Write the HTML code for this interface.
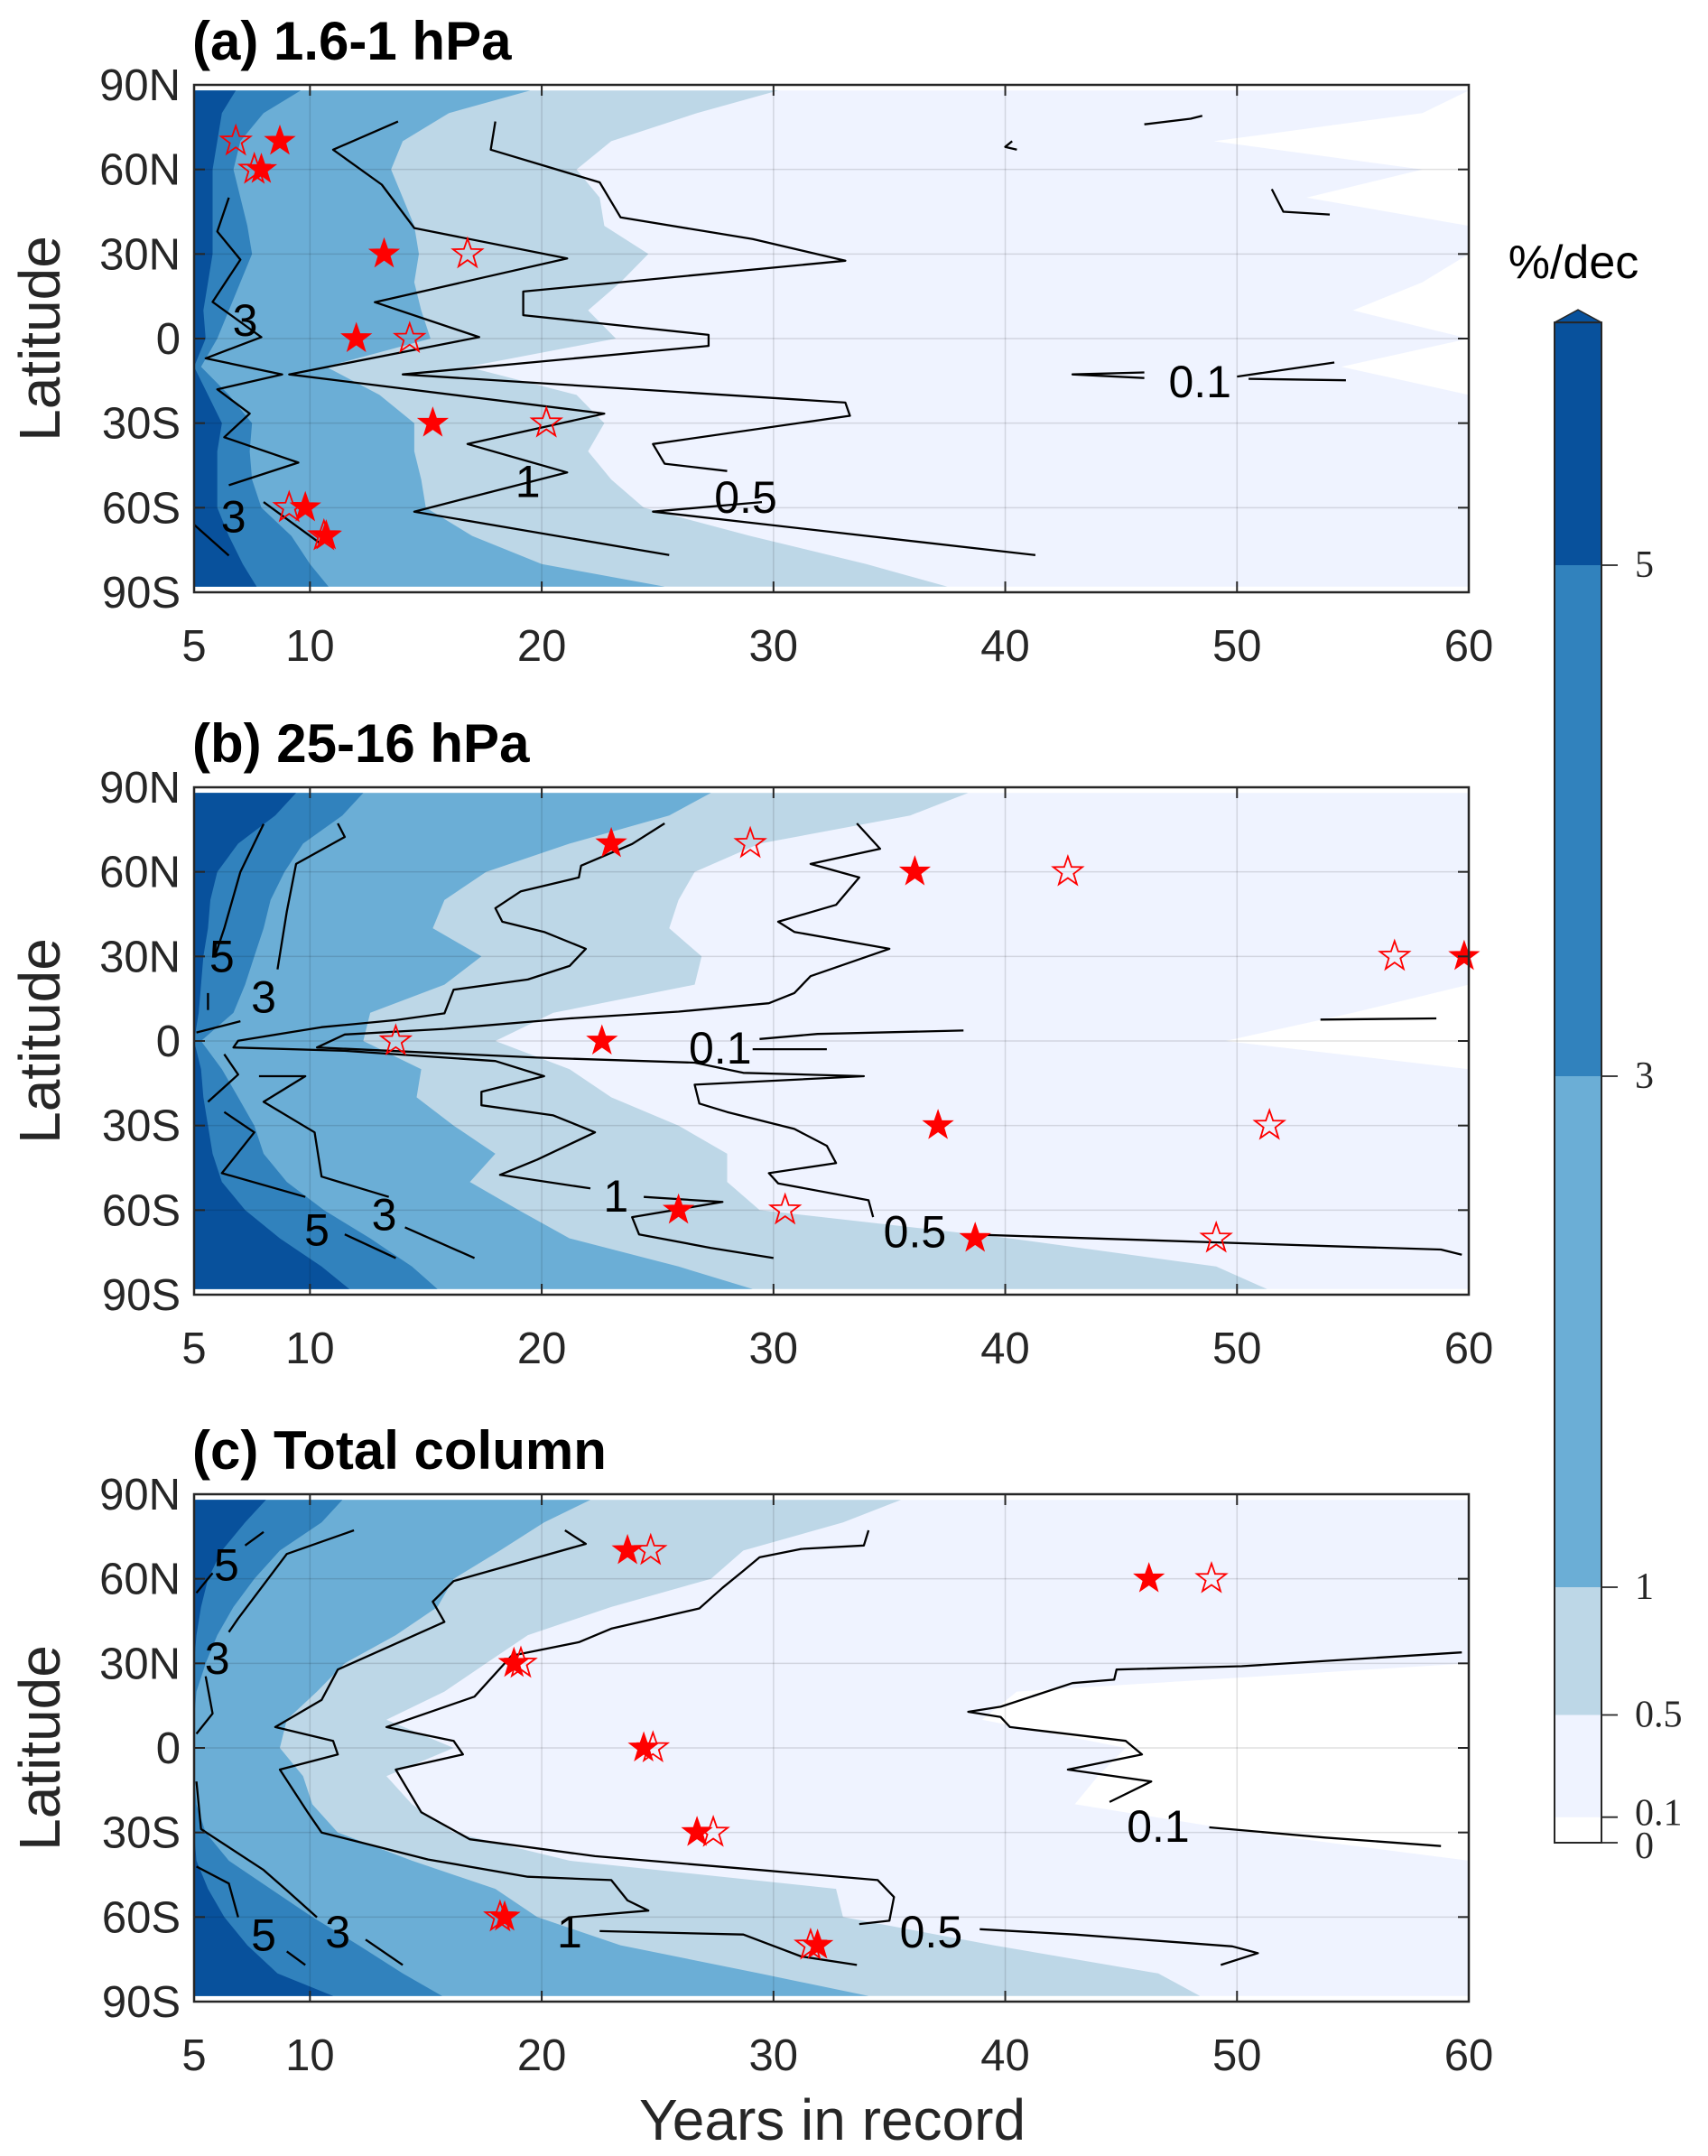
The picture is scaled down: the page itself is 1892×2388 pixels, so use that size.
<!DOCTYPE html>
<html><head><meta charset="utf-8">
<style>
html,body{margin:0;padding:0;background:#fff;}
svg{display:block;font-family:"Liberation Sans",sans-serif;}
</style></head>
<body>
<svg id="fig" width="1892" height="2388" viewBox="0 0 1892 2388" xmlns="http://www.w3.org/2000/svg"></svg>
<script>
// ---- data ----
const lats=[88,80,70,60,50,40,30,20,10,0,-10,-20,-30,-40,-50,-60,-70,-80,-88];
const levels=[0.1,0.5,1,3,5];
const colors=['#eff3ff','#bdd7e7','#6baed6','#3182bd','#08519c'];
// panel a boundaries (years where field drops below level)
const a01=[60,58,49,58,53,60,60,58,55,60,54.5,60,60,60,60,60,60,60,60];
const a05=[30.2,26.7,23,21.5,22.5,22.7,24.6,23.4,22,23.2,16.8,21.5,22.7,22,23,24.4,29,34,37.5];
const a1=[19.5,16,14,13.5,14,14.5,14.7,14.5,14.8,15.2,10.7,13,14.5,14.5,14.8,15,17,20,25.3];
const a3=[9.6,8,7,6.7,7,7.3,7.5,7,6.5,6,5.3,6.5,7.5,7.4,7.5,7.9,9.2,10,10.8];
const a5=[6.8,6.2,6,5.8,5.8,5.8,5.8,5.6,5.4,5.5,5,5.6,6.2,6,6,6,6.5,7.1,7.7];
// panel b
const b01=[60,60,60,60,60,60,60,60,55,49.5,60,60,60,60,60,60,60,60,60];
const b05=[38.4,35.9,29.4,26.6,25.9,25.5,26.9,26.6,20.5,18,21.2,23,25.9,28,28,29.4,40.2,49.1,51.3];
const b1=[27.3,25.5,21.2,17.6,15.8,15.3,17.4,15.8,12.6,12.3,14.8,14.6,16.2,18,16.9,19,21.2,25.9,29.1];
const b3=[12.3,11.4,9.7,8.9,8.3,8,7.6,7.2,6.7,5.3,6.2,6.9,7.6,8,9,10.6,12.6,14.4,15.5];
const b5=[9.4,8.5,6.9,6,5.7,5.6,5.4,5.3,5.2,5,5.3,5.4,5.6,5.8,6.2,7.2,8.7,10.5,11.7];
// panel c
const c01=[60,60,60,60,60,60,60,40.5,39,45.2,44,43,50.6,60,60,60,60,60,60];
const c05=[35.5,33,28.7,27.3,23,19.4,17.6,15.8,13.3,16.2,13.3,14.4,16.2,21.2,32.7,33,39.5,46.6,48.4];
const c1=[22.1,20.1,18.2,16.2,15.5,13.7,11.5,10.3,9,8.7,9.7,10.1,11.2,14.4,18,19.8,23.4,29.4,34.1];
const c3=[11.4,10.5,8.7,7.6,6.7,6,5.5,5.1,5,5,5,5.1,5.5,6.5,8.3,10.1,12.1,14,15.7];
const c5=[8.1,7.2,6.2,5.6,5.3,5.1,5,5,5,5,5,5,5,5.1,5.6,6.3,7.3,8.6,11];

// contour lines [year,lat]
const aLines=[
 [[6.5,50],[6,38],[7,28],[5.8,13],[7.9,0.5],[5.5,-7],[8.8,-12.7],[6,-18],[7.4,-26.6],[6.3,-35],[9.5,-44],[6.5,-52]],
 [[5,-66],[6.5,-77]],[[8,-58],[10.5,-73]],
 [[13.8,77],[11,67],[13.1,54.6],[14.5,39.2],[21.1,28.4],[12.8,12.9],[17.3,0.5],[9.1,-12.7],[22.7,-26.6],[16.8,-37.4],[21.1,-47.5],[14.5,-61.4],[25.5,-76.8]],
 [[18,77],[17.8,67],[22.5,55.4],[23.4,43],[29.1,35.3],[33.1,27.6],[19.2,16.7],[19.2,8.3],[27.2,1.3],[27.2,-2.6],[14,-12.7],[33.1,-22.7],[33.3,-27.4],[24.8,-37.4],[25.3,-44.4],[28,-47]],
 [[29.5,-58],[24.8,-61.4],[41.3,-76.8]],
 [[46,-12],[42.9,-12.7],[46,-14]],[[50,-13.5],[54.2,-8.5]],[[50.5,-14.3],[54.7,-14.8]],
 [[40.3,70],[40,68],[40.5,67]],[[46,76],[48,78],[48.5,79]],[[51.5,53],[52,45],[54,44]]
];
const aLabels=[['3',7.2,6.7],['3',6.7,-63],['1',19.4,-50.5],['0.5',28.8,-56],['0.1',48.4,-15]];
const bLines=[
 [[25.3,77.2],[23.9,69.9],[21.7,62.2],[21.6,58],[19.1,53.1],[18,47.1],[18.3,42.3],[20.1,38.7],[21.9,32.7],[21.2,26.6],[19.4,21.8],[16.2,18.2],[15.8,9.8],[13.7,7.4],[10.5,4.9],[6.9,0.1],[6.7,-2.3],[11.5,-3.5],[18,-7.1],[20.1,-12.5],[17.4,-18],[17.4,-22.8],[20.5,-26.4],[22.3,-32.4],[19.8,-42.1],[18.2,-47.5],[22.1,-52.3]],
 [[24.4,-55.3],[27.8,-57.1],[23.9,-62.5],[24.2,-68.6],[27.3,-73.4],[30,-77]],
 [[33.6,77.2],[34.6,68.2],[31.6,62.8],[33.7,58],[32.7,48.3],[30.2,42.3],[30.9,38.7],[35,32.7],[31.6,23],[30.9,17],[29.8,13.4],[25.9,10.4],[21.2,8],[15.8,4.3],[11.5,2.3],[10.3,-2.3],[19.8,-5.9],[26.6,-7.7],[28.7,-11.3],[33.9,-12.5],[26.6,-15.5],[26.8,-22.2],[28,-25.2],[30.9,-31.2],[32.3,-37.2],[32.7,-43.3],[29.8,-46.9],[30.2,-50.5],[34.1,-56.5],[34.3,-62.5]],
 [[38.4,-68.6],[45.2,-70.4],[54.1,-72.8],[58.8,-74],[59.7,-75.8]],
 [[38.2,3.7],[31.9,2.5],[29.4,0.7]],[[29.1,-2.9],[32.3,-2.9]],[[53.6,7.6],[58.6,8]],
 [[11.2,77.2],[11.5,72.4],[9.4,62.8],[9,45.9],[8.6,25.4]],
 [[8,77],[7,60],[6.3,39.9],[5.9,30]],[[5.6,17],[5.6,11]],
 [[7.8,-12.5],[9.8,-12.5],[8,-21.6],[10.2,-32.4],[10.5,-48.1],[13.4,-55.3]],[[14.1,-66.1],[17.1,-77]],
 [[6.3,-25.2],[7.6,-32.4],[6.2,-46.9],[9.8,-55.3]],[[11.5,-68.6],[13.7,-77]],
 [[6.3,-4.7],[6.9,-11.9],[5.6,-21.6]],[[5.1,3],[7,7]]
];
const bLabels=[['5',6.2,30.2],['3',8,15.8],['0.1',27.7,-2.3],['1',23.2,-54.7],['0.5',36.1,-67.4],['5',10.3,-66.8],['3',13.2,-61.3]];
const cLines=[
 [[34.1,77.2],[33.9,71.8],[31.2,70.6],[29.4,67.6],[28.7,62.8],[27.8,56.8],[26.8,49.5],[23,42.3],[21.6,37.5],[19.4,33.9],[18.7,32.7],[17.1,18.2],[13.3,7.4],[16.2,2.5],[16.6,-2.3],[13.7,-7.7],[14.8,-22.8],[16.9,-32.4],[22.3,-38.4],[29.4,-43.3],[34.5,-46.9],[35.2,-52.9],[35,-61.3],[33.7,-62.5]],
 [[38.9,-64.3],[43,-66.2],[49.8,-70.4],[50.9,-72.8],[49.3,-77]],
 [[21,77.2],[21.9,72.4],[16.2,59.2],[15.3,51.9],[15.8,44.7],[11.2,27.8],[10.5,17],[8.5,7.4],[11,2.5],[11.2,-2.3],[8.7,-7.7],[9.9,-22.8],[10.5,-30],[15.1,-39.6],[19.4,-45.7],[23,-46.9],[23.7,-54.1],[24.6,-57.7],[21.2,-60.1]],
 [[22.5,-65],[28.7,-66.2],[31.2,-74],[33.6,-77]],
 [[11.9,77.2],[9,68.8],[6.9,45.9],[6.5,41.1]],[[5.5,25.4],[5.8,12.2],[5.1,5]],
 [[5.1,-11.9],[5.3,-28.8],[8,-43.3],[9,-50.5],[10.3,-60.1]],[[12.4,-68],[14,-77]],
 [[8,76.6],[7.2,71.8]],[[5.8,62],[5.1,55]],
 [[5.1,-42.1],[6.5,-48.1],[6.9,-60.1]],[[9,-72.2],[9.8,-77]],
 [[59.7,33.9],[50.2,29],[44.8,27.8],[44.7,24.2],[42.9,23],[39.8,14.6],[38.4,12.8],[39.8,11],[40.2,7.4],[45.2,2.5],[45.9,-2.3],[42.7,-7.7],[46.3,-11.9],[44.5,-19.2]],
 [[48.8,-28.2],[53.8,-31.8],[58.8,-34.8]]
];
const cLabels=[['5',6.4,65.2],['3',6,32],['5',8,-66.2],['3',11.2,-65],['1',21.2,-65],['0.5',36.8,-65],['0.1',46.6,-27.6]];
// stars [year,lat]
const aFilled=[[8.7,70],[7.9,60],[13.2,30],[12,0],[15.3,-30],[9.8,-60],[10.7,-70]];
const aHollow=[[6.8,70],[7.6,60],[16.8,30],[14.3,0],[20.2,-30],[9.1,-60],[10.6,-70]];
const bFilled=[[23,70],[36.1,60],[59.8,30],[22.6,0],[37.1,-30],[25.9,-60],[38.7,-70]];
const bHollow=[[29,70],[42.7,60],[56.8,30],[13.7,0],[51.4,-30],[30.5,-60],[49.1,-70]];
const cFilled=[[23.7,70],[46.2,60],[18.8,30],[24.4,0],[26.7,-30],[18.4,-60],[31.9,-70]];
const cHollow=[[24.7,70],[48.9,60],[19.1,30],[24.8,0],[27.4,-30],[18.2,-60],[31.6,-70]];
const xTicks=[5,10,20,30,40,50,60];
const yTicks=[90,60,30,0,-30,-60,-90];
const yTickLabels=['90N','60N','30N','0','30S','60S','90S'];
const cbTicks=[0,0.1,0.5,1,3,5];
const cbTickLabels=['0','0.1','0.5','1','3','5'];

// ---- drawing ----
const NS='http://www.w3.org/2000/svg';
const svg=document.getElementById('fig');
function mk(tag,attrs,parent){const e=document.createElementNS(NS,tag);for(const k in attrs)e.setAttribute(k,attrs[k]);(parent||svg).appendChild(e);return e;}
const L=215,R=1627,H=562;
const xs=y=>L+(y-5)*(R-L)/55;
function starPath(cx,cy,r){let d='';for(let i=0;i<10;i++){const rr=i%2?r*0.4:r;const a=-Math.PI/2+i*Math.PI/5;d+=(i?'L':'M')+(cx+rr*Math.cos(a)).toFixed(1)+','+(cy+rr*Math.sin(a)).toFixed(1);}return d+'Z';}

function panel(id,top,title,bounds,lines,labels,filled,hollow){
  const ys=lat=>top+(90-lat)/180*H;
  const g=mk('g',{});
  
  
  bounds.forEach((b,li)=>{
    let d='M'+xs(5)+','+ys(88);
    lats.forEach((lt,i)=>{d+='L'+xs(b[i]).toFixed(1)+','+ys(lt).toFixed(1);});
    d+='L'+xs(5)+','+ys(-88)+'Z';
    const p=mk('path',{d:d,fill:colors[li],stroke:'none'},g);
    
    
  });
  xTicks.slice(1,-1).forEach(t=>{const l=mk('line',{x1:xs(t),x2:xs(t),y1:top,y2:top+H,stroke:'#000','stroke-opacity':0.12,'stroke-width':1.5},g);
    });
  yTicks.slice(1,-1).forEach(t=>{const l=mk('line',{x1:L,x2:R,y1:ys(t),y2:ys(t),stroke:'#000','stroke-opacity':0.12,'stroke-width':1.5},g);
    });
  lines.forEach(pts=>{
    const p=mk('polyline',{points:pts.map(q=>xs(q[0]).toFixed(1)+','+ys(q[1]).toFixed(1)).join(' '),fill:'none',stroke:'#000','stroke-width':2.3,'stroke-linejoin':'round'},g);
    
    
  });
  labels.forEach(lb=>{
    const t=mk('text',{x:xs(lb[1]),y:ys(lb[2])+18,'font-size':50,'text-anchor':'middle',fill:'#000'},g);
    t.textContent=lb[0];
    
    
  });
  filled.forEach(s=>{const p=mk('path',{d:starPath(xs(s[0]),ys(s[1]),17),fill:'#ff0000',stroke:'#ff0000','stroke-width':1},g);
    });
  hollow.forEach(s=>{const p=mk('path',{d:starPath(xs(s[0]),ys(s[1]),17),fill:'none',stroke:'#ff0000','stroke-width':1.8},g);
    });
  const bx=mk('rect',{x:L,y:top,width:R-L,height:H,fill:'none',stroke:'#262626','stroke-width':2.5},g);
  
  xTicks.forEach(t=>{
    mk('line',{x1:xs(t),x2:xs(t),y1:top+H,y2:top+H-12,stroke:'#262626','stroke-width':2},g);
    mk('line',{x1:xs(t),x2:xs(t),y1:top,y2:top+12,stroke:'#262626','stroke-width':2},g);
    const tx=mk('text',{x:xs(t),y:top+H+76,'font-size':49,'text-anchor':'middle',fill:'#262626'},g);
    tx.textContent=t;
    
    
  });
  yTicks.forEach((t,i)=>{
    mk('line',{x1:L,x2:L+12,y1:ys(t),y2:ys(t),stroke:'#262626','stroke-width':2},g);
    mk('line',{x1:R,x2:R-12,y1:ys(t),y2:ys(t),stroke:'#262626','stroke-width':2},g);
    const tx=mk('text',{x:200,y:ys(t)+17,'font-size':49,'text-anchor':'end',fill:'#262626'},g);
    tx.textContent=yTickLabels[i];
    
    
  });
  const tt=mk('text',{x:213,y:top-28,'font-size':60,'font-weight':'bold',fill:'#000'},g);
  tt.textContent=title;
  
  
  const yl=mk('text',{x:0,y:0,'font-size':64,'text-anchor':'middle',fill:'#262626',transform:'translate(66,'+(top+H/2)+') rotate(-90)'},g);
  yl.textContent='Latitude';
  
  
}
panel('a',94,'(a) 1.6-1 hPa',[a01,a05,a1,a3,a5],aLines,aLabels,aFilled,aHollow);
panel('b',872,'(b) 25-16 hPa',[b01,b05,b1,b3,b5],bLines,bLabels,bFilled,bHollow);
panel('c',1655,'(c) Total column',[c01,c05,c1,c3,c5],cLines,cLabels,cFilled,cHollow);

const xl=mk('text',{x:922,y:2370,'font-size':64,'text-anchor':'middle',fill:'#262626'});
xl.textContent='Years in record';



// colorbar
const cbL=1722,cbR=1774,cbY=v=>2041-v*283;
const cbEdges=[0,0.1,0.5,1,3,5,5.95];
const cbColors=['#ffffff','#eff3ff','#bdd7e7','#6baed6','#3182bd','#08519c'];
const cg=mk('g',{});


cbColors.forEach((c,i)=>{const r=mk('rect',{x:cbL,y:cbY(cbEdges[i+1]),width:cbR-cbL,height:cbY(cbEdges[i])-cbY(cbEdges[i+1]),fill:c},cg);
  });
const ar=mk('path',{d:`M${cbL},${cbY(5.95)} L${(cbL+cbR)/2},${cbY(5.95)-14} L${cbR},${cbY(5.95)} Z`,fill:'#08519c',stroke:'#262626','stroke-width':1.5},cg);

mk('rect',{x:cbL,y:cbY(5.95),width:cbR-cbL,height:cbY(0)-cbY(5.95),fill:'none',stroke:'#262626','stroke-width':2},cg);
cbTicks.forEach((t,i)=>{
  mk('line',{x1:cbR,x2:cbR+18,y1:cbY(t),y2:cbY(t),stroke:'#262626','stroke-width':1.8},cg);
  const tx=mk('text',{x:1811,y:cbY(t)+13+(t===0?4:0)+(t===0.1?-4:0),'font-size':42,fill:'#262626','font-family':'Liberation Serif, serif'},cg);
  tx.textContent=cbTickLabels[i];
  
  
});
const cu=mk('text',{x:1743,y:308,'font-size':52,'text-anchor':'middle',fill:'#000'});
cu.textContent='%/dec';


</script>
</body></html>
